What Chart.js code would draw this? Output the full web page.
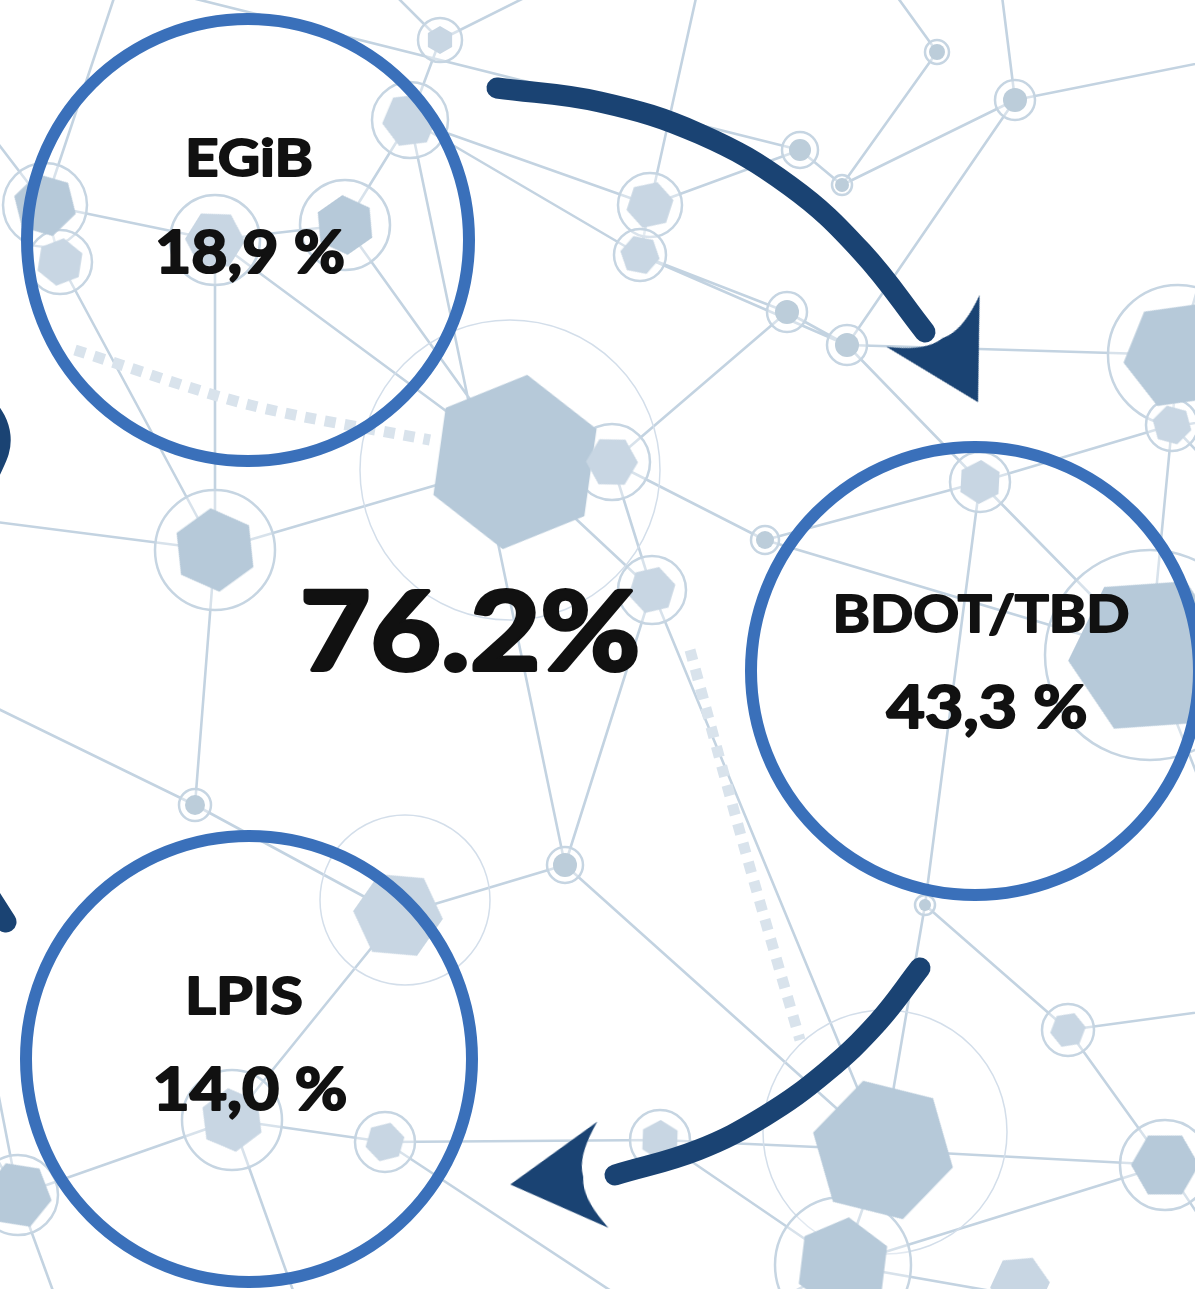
<!DOCTYPE html>
<html>
<head>
<meta charset="utf-8">
<script src="https://cdn.jsdelivr.net/npm/chart.js@4.4.1/dist/chart.umd.min.js"></script>
<style>
  html, body { margin: 0; padding: 0; background: #fff; }
  #wrap { width: 1195px; height: 1289px; }
</style>
</head>
<body>
<div id="wrap"><canvas id="chart" width="1195" height="1289"></canvas></div>
<script>
// data
const registers = ['EGiB', 'BDOT/TBD', 'LPIS'];
const shares = [18.9, 43.3, 14.0];
const totalShare = 76.2;

// layout of the three register circles (canvas units)
const circleCenters = [{x: 248, y: 240}, {x: 975, y: 671}, {x: 249, y: 1059}];
const circleRadii = [221, 224, 223];
const nameAt = [{x: 249, y: 176, w: 128}, {x: 981, y: 632, w: 297}, {x: 244, y: 1014, w: 118}];
const valueAt = [{x: 250, y: 273, w: 190}, {x: 987, y: 728, w: 201}, {x: 250, y: 1110, w: 195}];
const totalAt = {x: 470, y: 670, w: 340};

// arrows: shaft paths and arrowheads
const arrowPaths = [
  [{x: 497, y: 88}, {x: 600, y: 102}, {x: 700, y: 134}, {x: 790, y: 186}, {x: 862, y: 252}, {x: 925, y: 332}],
  [{x: 920, y: 968}, {x: 878, y: 1022}, {x: 826, y: 1072}, {x: 765, y: 1116}, {x: 698, y: 1150}, {x: 615, y: 1175}],
  [{x: -24, y: 390}, {x: 0, y: 436}, {x: -14, y: 482}],
  [{x: -40, y: 850}, {x: 6, y: 922}]
];
const arrowHeads = [{x: 948, y: 348}, {x: 572, y: 1178}];
const arrowHeadTurn = [151, -96];

// background network: x, y, ring radius, core radius, core style
const netNodes = [
  [440, 40, 22, 14, 'l'], [410, 120, 38, 28, 'l'], [45, 205, 42, 32, 'h'], [60, 262, 32, 24, 'l'],
  [215, 240, 45, 30, 'l'], [345, 225, 45, 30, 'h'], [650, 205, 32, 24, 'l'], [640, 255, 26, 20, 'l'],
  [800, 150, 18, 11, 'd'], [842, 185, 10, 7, 'd'], [937, 52, 12, 8, 'd'], [1015, 100, 20, 12, 'd'],
  [787, 312, 20, 12, 'd'], [847, 345, 20, 12, 'd'], [1178, 355, 70, 55, 'h'], [1172, 425, 26, 20, 'l'],
  [515, 462, 0, 88, 'h'], [612, 462, 38, 26, 'l'], [215, 550, 60, 42, 'h'], [652, 590, 34, 24, 'l'],
  [765, 540, 14, 9, 'd'], [980, 482, 30, 22, 'l'], [1150, 655, 105, 82, 'h'], [195, 805, 16, 10, 'd'],
  [565, 865, 18, 12, 'd'], [398, 915, 0, 45, 'l'], [925, 905, 10, 6, 'd'], [1068, 1030, 26, 18, 'l'],
  [883, 1150, 0, 72, 'h'], [843, 1265, 68, 48, 'h'], [1165, 1165, 45, 34, 'h'], [232, 1120, 50, 32, 'l'],
  [385, 1142, 30, 20, 'l'], [18, 1195, 40, 34, 'h'], [660, 1140, 30, 20, 'l'], [1020, 1285, 0, 30, 'l'],
  [120, -20, 0, 0, ''], [380, -20, 0, 0, ''], [700, -20, 0, 0, ''], [885, -20, 0, 0, ''],
  [1000, -20, 0, 0, ''], [1215, 230, 0, 0, ''], [1215, 470, 0, 0, ''], [1215, 820, 0, 0, ''],
  [1215, 1010, 0, 0, ''], [1215, 1240, 0, 0, ''], [1100, 1310, 0, 0, ''], [640, 1310, 0, 0, ''],
  [300, 1310, 0, 0, ''], [60, 1310, 0, 0, ''], [-20, 1000, 0, 0, ''], [-20, 700, 0, 0, ''],
  [-20, 520, 0, 0, ''], [-20, 120, 0, 0, ''], [1215, 60, 0, 0, ''], [560, -20, 0, 0, ''],
  [-20, 1130, 0, 0, ''], [760, 1310, 0, 0, '']
];
const netEdges = [
  [0, 37], [0, 55], [0, 1], [1, 5], [1, 6], [1, 7], [5, 4], [4, 2], [2, 53], [2, 3], [3, 18], [4, 18],
  [5, 16], [4, 16], [6, 7], [6, 8], [8, 9], [9, 10], [10, 39], [11, 40], [11, 54], [9, 11], [11, 13],
  [7, 13], [7, 12], [12, 13], [6, 38], [13, 21], [13, 14], [14, 41], [14, 15], [15, 42], [16, 17],
  [17, 20], [20, 21], [21, 22], [16, 18], [18, 52], [18, 23], [19, 17], [19, 24], [19, 16], [20, 22],
  [21, 26], [22, 43], [26, 27], [27, 44], [27, 30], [26, 28], [28, 29], [28, 30], [29, 30], [30, 45],
  [29, 46], [29, 57], [28, 24], [24, 25], [25, 23], [23, 51], [25, 31], [31, 32], [31, 33], [33, 50],
  [32, 34], [34, 29], [31, 48], [33, 49], [32, 47], [34, 28], [33, 56], [36, 2], [22, 15], [21, 15],
  [1, 24], [19, 28], [12, 17], [8, 36]
];
const faintRings = [[510, 470, 150], [405, 900, 85], [885, 1132, 122]];
const dottedTrails = [
  [{x: 75, y: 350}, {x: 250, y: 405}, {x: 430, y: 440}],
  [{x: 690, y: 650}, {x: 745, y: 850}, {x: 800, y: 1040}]
];

const NAVY = '#1a4373';
const BLUE = '#3a70ba';
const LINE = '#c3d3e1';

function hexImage(r, color) {
  const c = document.createElement('canvas');
  const s = Math.ceil(r * 2 + 2);
  c.width = s; c.height = s;
  const g = c.getContext('2d');
  g.fillStyle = color;
  g.beginPath();
  for (let k = 0; k < 6; k++) {
    const a = Math.PI / 3 * k + Math.PI / 6;
    g.lineTo(s / 2 + r * Math.cos(a), s / 2 + r * Math.sin(a));
  }
  g.closePath();
  g.fill();
  return c;
}

// arrowhead with straight sides and a shallow hollow back, tip pointing up before rotation
function headImage(r, color) {
  const c = document.createElement('canvas');
  const s = r * 2 + 4;
  c.width = s; c.height = s;
  const g = c.getContext('2d');
  const m = s / 2;
  const hw = r * 0.86;
  g.fillStyle = color;
  g.beginPath();
  g.moveTo(m, m - r);
  g.lineTo(m + hw, m + r * 0.5);
  g.quadraticCurveTo(m + hw * 0.4, m + r * 0.12, m, m + r * 0.18);
  g.quadraticCurveTo(m - hw * 0.4, m + r * 0.12, m - hw, m + r * 0.5);
  g.closePath();
  g.fill();
  return c;
}

const pt = n => ({x: netNodes[n][0], y: netNodes[n][1]});
const edgeData = [];
netEdges.forEach(([a, b]) => { edgeData.push(pt(a), pt(b), {x: null, y: null}); });

const ringNodes = netNodes.filter(n => n[2] > 0);
const coreNodes = netNodes.filter(n => n[3] > 0);

const datasets = [];

datasets.push({
  data: edgeData, showLine: true, spanGaps: false, borderColor: LINE, borderWidth: 2.6,
  pointRadius: 0, order: 9
});
dottedTrails.forEach(d => datasets.push({
  data: d, showLine: true, borderColor: '#d9e3ec', borderWidth: 11, borderDash: [11, 9],
  tension: 0.3, pointRadius: 0, order: 8
}));
datasets.push({
  data: faintRings.map(r => ({x: r[0], y: r[1]})), pointRadius: faintRings.map(r => r[2]),
  pointBorderWidth: 1.5, pointBorderColor: '#d3deea', pointBackgroundColor: 'rgba(0,0,0,0)', order: 7
});
datasets.push({
  data: ringNodes.map(n => ({x: n[0], y: n[1]})), pointRadius: ringNodes.map(n => n[2]),
  pointBorderWidth: 2.5, pointBorderColor: '#c6d5e2', pointBackgroundColor: 'rgba(255,255,255,0.35)', order: 6
});
datasets.push({
  data: coreNodes.map(n => ({x: n[0], y: n[1]})),
  pointStyle: coreNodes.map(n => n[4] === 'd' ? 'circle' : hexImage(n[3], n[4] === 'h' ? '#b6c9d9' : '#c8d6e3')),
  pointRadius: coreNodes.map(n => n[3]),
  pointRotation: coreNodes.map((n, i) => (i * 23) % 60),
  pointBackgroundColor: '#bccdda', pointBorderWidth: 0, order: 5
});
datasets.push({
  data: circleCenters, pointRadius: circleRadii, pointBorderWidth: 12,
  pointBorderColor: BLUE, pointBackgroundColor: 'rgba(0,0,0,0)', order: 3
});
arrowPaths.forEach(p => datasets.push({
  data: p, showLine: true, borderColor: NAVY, borderWidth: 21, tension: 0.4,
  borderCapStyle: 'round', borderJoinStyle: 'round', pointRadius: 0, order: 2
}));
const head = headImage(62, NAVY);
datasets.push({
  data: arrowHeads, pointStyle: head, pointRadius: 60, pointRotation: arrowHeadTurn,
  pointBackgroundColor: NAVY, pointBorderWidth: 0, order: 1
});

function drawFitted(ctx, text, x, y, size, width) {
  ctx.font = 'bold ' + size + 'px Lato, "Open Sans", sans-serif';
  const m = ctx.measureText(text).width;
  ctx.save();
  ctx.translate(x, y);
  ctx.scale(width / m, 1);
  ctx.lineWidth = size / 28;
  ctx.lineJoin = 'round';
  ctx.strokeText(text, 0, 0);
  ctx.fillText(text, 0, 0);
  ctx.restore();
}

const labelPlugin = {
  id: 'registerLabels',
  afterDatasetsDraw(chart) {
    const {ctx, scales: {x, y}} = chart;
    ctx.save();
    ctx.fillStyle = '#111111';
    ctx.strokeStyle = '#111111';
    ctx.textAlign = 'center';
    ctx.textBaseline = 'alphabetic';
    registers.forEach((name, i) => {
      drawFitted(ctx, name, x.getPixelForValue(nameAt[i].x), y.getPixelForValue(nameAt[i].y), 52, nameAt[i].w);
      const v = shares[i].toFixed(1).replace('.', ',') + ' %';
      drawFitted(ctx, v, x.getPixelForValue(valueAt[i].x), y.getPixelForValue(valueAt[i].y), 60, valueAt[i].w);
    });
    drawFitted(ctx, totalShare.toFixed(1) + '%', x.getPixelForValue(totalAt.x), y.getPixelForValue(totalAt.y), 110, totalAt.w);
    ctx.restore();
  }
};

new Chart(document.getElementById('chart'), {
  type: 'scatter',
  data: {datasets},
  options: {
    responsive: false,
    animation: false,
    events: [],
    layout: {padding: 0, autoPadding: false},
    plugins: {legend: {display: false}, tooltip: {enabled: false}},
    scales: {
      x: {type: 'linear', min: 0, max: 1195, display: false},
      y: {type: 'linear', min: 0, max: 1289, reverse: true, display: false}
    }
  },
  plugins: [labelPlugin]
});
</script>
</body>
</html>
